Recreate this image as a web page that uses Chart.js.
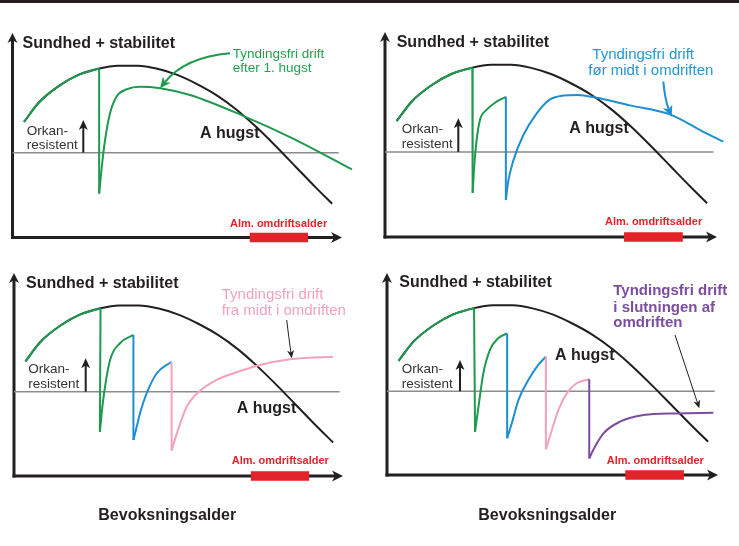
<!DOCTYPE html>
<html><head><meta charset="utf-8">
<script src="https://cdn.jsdelivr.net/npm/chart.js@4.4.1/dist/chart.umd.min.js"></script>
<style>
html,body{margin:0;padding:0;background:#fff;}
body{width:739px;height:546px;position:relative;overflow:hidden;}
#topbar{position:absolute;left:0;top:0;width:739px;height:3px;background:#231f20;z-index:5;}
canvas{position:absolute;}
</style></head><body>
<div id="topbar"></div>
<canvas id="c1" width="369" height="260" style="left:0;top:0;width:369px;height:260px"></canvas>
<canvas id="c2" width="370" height="260" style="left:369px;top:0;width:370px;height:260px"></canvas>
<canvas id="c3" width="369" height="286" style="left:0;top:260px;width:369px;height:286px"></canvas>
<canvas id="c4" width="370" height="286" style="left:369px;top:260px;width:370px;height:286px"></canvas>
<script>
// ---- DATA (x = stand age, y = health + stability, both in relative units 0-100) ----
const ageRange = [72, 89.7];          // "Alm. omdriftsalder"
const orkanLevel = 41.5;              // storm-resistance threshold
const thresholdEnd = 99;
const aHugst = [[3.5,56.5],[8,66],[14,74],[20,79.5],[26,82.5],[32,84],[38,84],[44,82.5],[50,79.5],[56,75],[62,69.5],[68,62.5],[74,54],[80,44.5],[86,34.5],[92,24.5],[97,16.5]];
const firstStand = [[3.5,56.5],[8,66],[14,74],[20,79.5],[26.3,82.6]];
// Panel 1: thinning-free after 1st cut
const p1Green = [[26.3,21.5],[27.1,34.6],[28.1,47.7],[29.6,60.7],[31.6,68.9],[34.7,72.5],[38.7,73.7],[44.8,73],[53.9,69.7],[70,59.5],[85,48.5],[103,33.3]];
// Panel 2: thinning-free before mid rotation
const p2Green = [[26.4,21.5],[26.9,35],[27.6,47.3],[28.6,57.1],[30.6,62],[33.6,66],[36.4,68.4]];
const p2Blue = [[36.4,18],[37.1,27],[38.6,37],[41.6,49.5],[45.7,60.3],[49.7,67.1],[53.7,69],[58,69.3],[63.8,67.9],[73.8,64.2],[85.8,59.8],[95.9,51.3],[101.9,46.5]];
// Panel 3: thinning-free from mid rotation
const p3Green = [[26.1,21.7],[26.6,30],[27.1,37.4],[29.2,57.1],[32.2,65.4],[36.3,69.5]];
const p3Blue = [[36.3,17.7],[37.3,24.3],[38.5,32],[40.3,40.7],[43.4,50.6],[47.9,56.3]];
const p3Pink = [[47.9,12.5],[49.5,21],[52.5,34.1],[56.5,41.9],[61.6,47.3],[66.7,50.6],[74.8,54.7],[83.9,57.5],[97,58.8]];
// Panel 4: thinning-free at end of rotation
const p4Green = [[26.6,21.4],[27.6,33.3],[29.1,50.3],[31.1,61.9],[33.6,67.7],[36.3,70.1]];
const p4Blue = [[36.3,18.2],[37.7,25.6],[39.7,37.1],[42.7,47],[45.7,54.5],[48,58.6]];
const p4Pink = [[48,12.7],[49.2,19],[51.8,32.2],[54.3,40.4],[57.3,45.4],[61.1,47.4]];
const p4Purple = [[61.1,8.2],[62.3,12.4],[65.4,20.6],[70.4,26.4],[77.5,29.7],[87.5,30.5],[98.6,30.8]];

// ---- STYLE ----
const FONT = '"Liberation Sans", Arial, Helvetica, sans-serif';
const C = {ink:'#231f20', green:'#1d9a4e', blue:'#1d8fd1', pink:'#f3a1bd', purple:'#7b4d9f', red:'#e3232a', grey:'#8c8c8c'};

function pts(a){ return a.map(([x,y])=>({x,y})); }
function curve(a,color,order){ return {data:pts(a),borderColor:color,borderWidth:2,pointRadius:0,cubicInterpolationMode:'monotone',clip:false,fill:false,order}; }
function straight(a,color,width,order,cap){ return {data:pts(a),borderColor:color,borderWidth:width,pointRadius:0,tension:0,clip:false,fill:false,order,borderCapStyle:cap||'butt'}; }
function drop(prev,next,color){ return straight([prev[prev.length-1], next[0]], color, 2, 4); }

function arrowHead(ctx,tx,ty,ang,len,hw,color){
  const dx=Math.cos(ang), dy=Math.sin(ang), px=-dy, py=dx;
  ctx.beginPath();
  ctx.moveTo(tx,ty);
  ctx.lineTo(tx-len*dx+hw*px, ty-len*dy+hw*py);
  ctx.lineTo(tx-len*0.72*dx, ty-len*0.72*dy);
  ctx.lineTo(tx-len*dx-hw*px, ty-len*dy-hw*py);
  ctx.closePath(); ctx.fillStyle=color; ctx.fill();
}

const diagram = {
  id:'diagram',
  beforeDatasetsDraw(chart,args,o){
    const ctx=chart.ctx, a=chart.chartArea;
    ctx.save();
    ctx.strokeStyle=C.ink; ctx.lineWidth=3;
    ctx.beginPath(); ctx.moveTo(a.left,a.bottom+1.5); ctx.lineTo(a.left,a.top+7); ctx.stroke();
    ctx.beginPath(); ctx.moveTo(a.left-1.5,a.bottom); ctx.lineTo(a.right-7,a.bottom); ctx.stroke();
    arrowHead(ctx,a.left,a.top,-Math.PI/2,10,5,C.ink);
    arrowHead(ctx,a.right,a.bottom,0,11,5.5,C.ink);
    ctx.restore();
  },
  afterDraw(chart,args,o){
    const ctx=chart.ctx, ox=o.offset[0], oy=o.offset[1];
    ctx.save();
    const yb=chart.scales.y.getPixelForValue(orkanLevel);
    const ux=o.up[0]-ox, ut=o.up[1]-oy;
    ctx.strokeStyle=C.ink; ctx.lineWidth=2;
    ctx.beginPath(); ctx.moveTo(ux,yb); ctx.lineTo(ux,ut+6); ctx.stroke();
    arrowHead(ctx,ux,ut,-Math.PI/2,10,4.5,C.ink);
    (o.pointers||[]).forEach(p=>{
      const f=[p.from[0]-ox,p.from[1]-oy], c=[p.ctrl[0]-ox,p.ctrl[1]-oy], t=[p.to[0]-ox,p.to[1]-oy];
      const ang=Math.atan2(t[1]-c[1],t[0]-c[0]);
      const back=p.head[0]*0.7;
      ctx.strokeStyle=p.color; ctx.lineWidth=p.width;
      ctx.beginPath(); ctx.moveTo(f[0],f[1]);
      ctx.quadraticCurveTo(c[0],c[1],t[0]-back*Math.cos(ang),t[1]-back*Math.sin(ang)); ctx.stroke();
      arrowHead(ctx,t[0],t[1],ang,p.head[0],p.head[1],p.color);
    });
    ctx.textBaseline='alphabetic'; ctx.textAlign='left';
    (o.texts||[]).forEach(([s,x,y,font,color])=>{
      ctx.font=font+' '+FONT; ctx.fillStyle=color; ctx.fillText(s,x-ox,y-oy);
    });
    ctx.restore();
  }
};

const TITLE='bold 16px', AH='bold 16px', ALM='bold 11px', ORK='13.5px';
function common(o){
  return [
    ['Sundhed + stabilitet', o.title[0], o.title[1], TITLE, C.ink],
    ['Orkan-', o.ork[0], o.ork[1], ORK, '#333333'],
    ['resistent', o.ork[0], o.ork[2], ORK, '#333333'],
    ['A hugst', o.ah[0], o.ah[1], AH, C.ink],
    ['Alm. omdriftsalder', o.alm[0], o.alm[1], ALM, C.red]
  ];
}
function baseSets(){
  return [
    straight([[0,orkanLevel],[thresholdEnd,orkanLevel]], C.grey, 1.5, 20),
    curve(aHugst, C.ink, 10),
    curve(firstStand, C.green, 5),
    straight([[ageRange[0],0],[ageRange[1],0]], C.red, 9.5, 0)
  ];
}
function makeChart(id, padding, offset, sets, o){
  new Chart(document.getElementById(id), {
    type:'line',
    data:{datasets: baseSets().concat(sets)},
    options:{
      responsive:false, animation:false, devicePixelRatio:1,
      layout:{padding},
      scales:{x:{type:'linear',min:0,max:100,display:false}, y:{type:'linear',min:0,max:100,display:false}},
      plugins:{legend:{display:false}, tooltip:{enabled:false},
        diagram:Object.assign({offset}, o)}
    },
    plugins:[diagram]
  });
}

// Panel 1
makeChart('c1',{left:12.5,right:27,top:33,bottom:22.5},[0,0],[
  drop(firstStand,p1Green,C.green), curve(p1Green,C.green,5)
],{
  up:[83.3,120],
  pointers:[{from:[230,53.3],ctrl:[185,57.2],to:[160,88.3],color:C.green,width:2,head:[11,5]}],
  texts: common({title:[22.5,47.5], ork:[26.7,135,149.3], ah:[200,138.3], alm:[230,226.7]}).concat([
    ['Tyndingsfri drift',232.7,58.3,'13.5px','#1fa34f'],
    ['efter 1. hugst',232.7,72.3,'13.5px','#1fa34f']
  ])
});
// Panel 2
makeChart('c2',{left:16,right:22,top:32,bottom:23},[369,0],[
  drop(firstStand,p2Green,C.green), curve(p2Green,C.green,5),
  drop(p2Green,p2Blue,C.blue), curve(p2Blue,C.blue,5)
],{
  up:[458.3,118.3],
  pointers:[{from:[663.3,81.7],ctrl:[665,100],to:[671.7,116.7],color:C.blue,width:2,head:[11,5]}],
  texts: common({title:[396.7,46.7], ork:[401.7,133.3,147.7], ah:[569.3,132.7], alm:[605,225]}).concat([
    ['Tyndingsfri drift',592.3,59,'15px','#2497d6'],
    ['før midt i omdriften',588.3,75,'15px','#2497d6']
  ])
});
// Panel 3
makeChart('c3',{left:14,right:26,top:13,bottom:70},[0,260],[
  drop(firstStand,p3Green,C.green), curve(p3Green,C.green,5),
  drop(p3Green,p3Blue,C.blue), curve(p3Blue,C.blue,5),
  drop(p3Blue,p3Pink,C.pink), curve(p3Pink,C.pink,5)
],{
  up:[85.7,358.3],
  pointers:[{from:[286.7,320],ctrl:[289,339],to:[291.7,358.3],color:C.ink,width:1,head:[8,3.5]}],
  texts: common({title:[26,287.7], ork:[28.3,373.3,388.3], ah:[236.7,413.3], alm:[231.7,464]}).concat([
    ['Tyndingsfri drift',221.7,299.3,'15px','#f0a3bb'],
    ['fra midt i omdriften',221.7,315,'15px','#f0a3bb'],
    ['Bevoksningsalder',98.3,520,'bold 16px',C.ink]
  ])
});
// Panel 4
makeChart('c4',{left:18,right:21,top:13,bottom:71},[369,260],[
  drop(firstStand,p4Green,C.green), curve(p4Green,C.green,5),
  drop(p4Green,p4Blue,C.blue), curve(p4Blue,C.blue,5),
  drop(p4Blue,p4Pink,C.pink), curve(p4Pink,C.pink,5),
  drop(p4Pink,p4Purple,C.purple), curve(p4Purple,C.purple,5)
],{
  up:[460,360],
  pointers:[{from:[675,335],ctrl:[687,371],to:[699.3,408.3],color:C.ink,width:1,head:[8,3.5]}],
  texts: common({title:[399.3,286.7], ork:[401.7,373.3,387.7], ah:[555,360], alm:[606.7,464]}).concat([
    ['Tyndingsfri drift',613.3,295,'bold 15px',C.purple],
    ['i slutningen af',613.3,311.7,'bold 15px',C.purple],
    ['omdriften',613.3,327.3,'bold 15px',C.purple],
    ['Bevoksningsalder',478.3,520,'bold 16px',C.ink]
  ])
});
</script>
</body></html>
